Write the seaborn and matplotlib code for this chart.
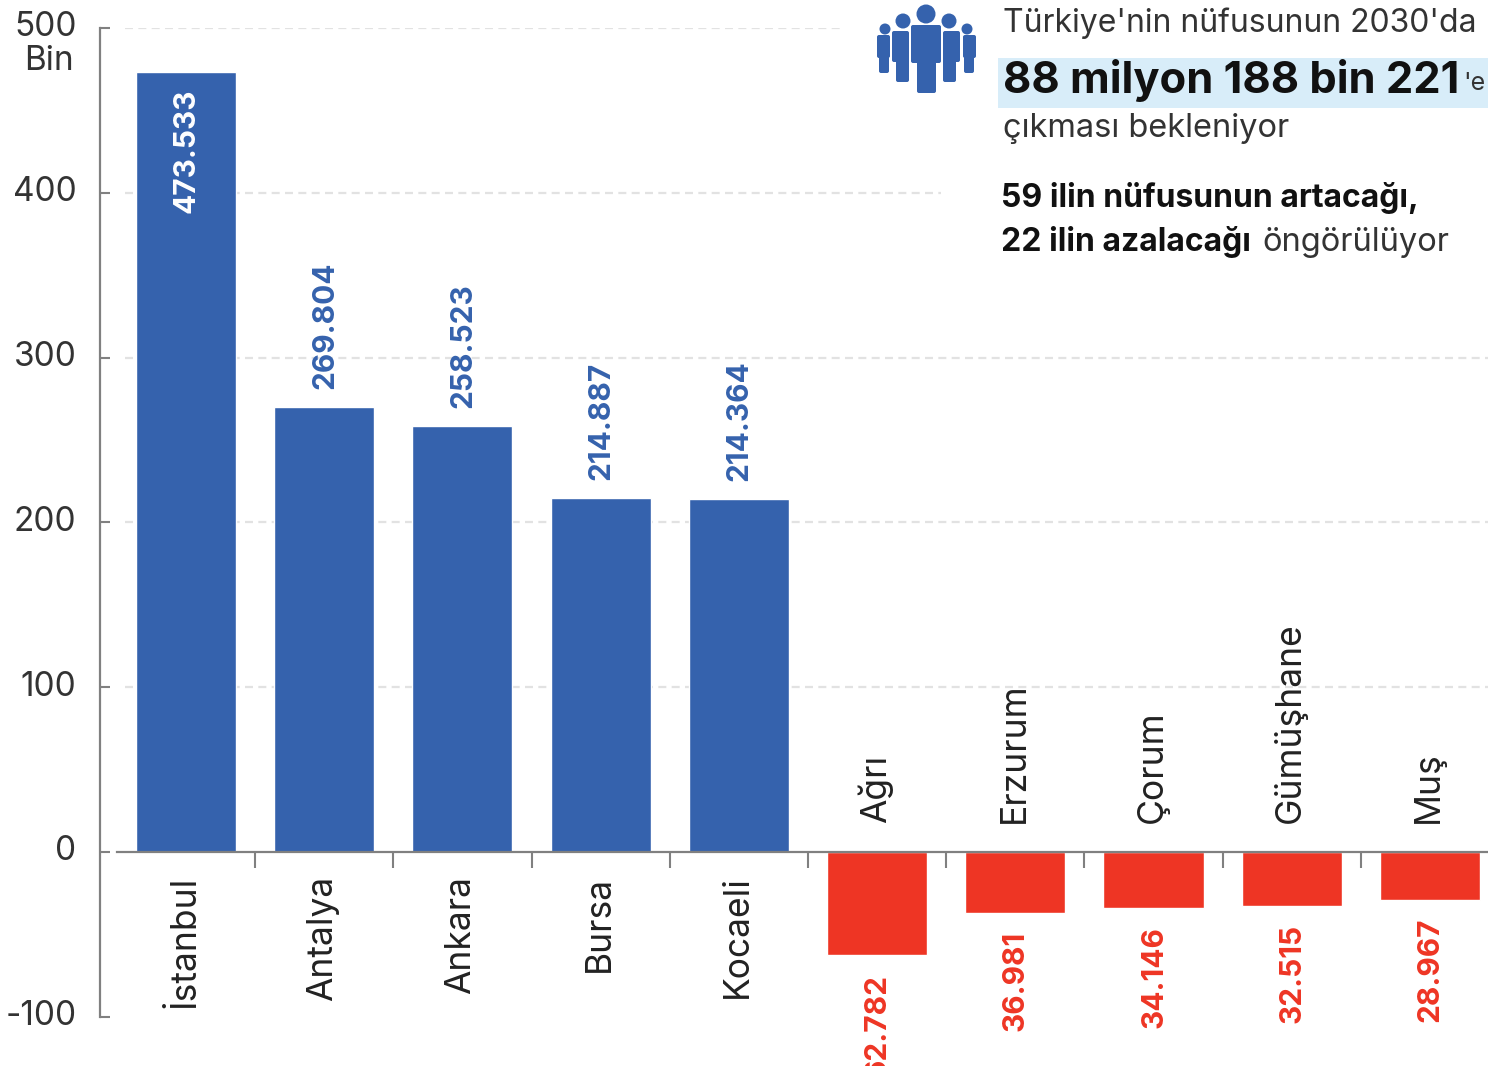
import numpy as np
import pandas as pd
import seaborn as sns
import matplotlib.pyplot as plt
from matplotlib.patches import Circle, FancyBboxPatch, Rectangle
from matplotlib.transforms import ScaledTranslation

# thousands of people, change by 2030
cities = ['İstanbul', 'Antalya', 'Ankara', 'Bursa', 'Kocaeli', 'Ağrı', 'Erzurum', 'Çorum', 'Gümüşhane', 'Muş']
values = [473.533, 269.804, 258.523, 214.887, 214.364, -62.782, -36.981, -34.146, -32.515, -28.967]
value_labels = ['473.533', '269.804', '258.523', '214.887', '214.364', '62.782', '36.981', '34.146', '32.515', '28.967']
y_ticks = [-100, 0, 100, 200, 300, 400, 500]
y_tick_labels = ['-100', '0', '100', '200', '300', '400', '500']

BLUE = '#3562ad'
RED = '#ee3524'
GREY = '#808080'

sns.set_style('white')
plt.rcParams['font.family'] = ['Inter', 'DejaVu Sans']

data = pd.DataFrame({'city': cities, 'value': values})
data['sign'] = np.where(data['value'] > 0, 'up', 'down')

fig = plt.figure(figsize=(14.88, 10.66), dpi=100)
ax = fig.add_axes([100 / 1488, 1 - 1016.8 / 1066, 1388 / 1488, (1016.8 - 28) / 1066])

sns.barplot(data=data, x='city', y='value', hue='sign', palette={'up': BLUE, 'down': RED},
            dodge=False, width=0.724, legend=False, saturation=1, ax=ax)
ax.set_xlim(-0.622, 9.42)
ax.set_ylim(-100, 500)
ax.set_xlabel('')
ax.set_ylabel('')

# dashed guides stop where the text block starts
for y, x1 in [(500, 4.73), (400, 5.46), (300, 9.42), (200, 9.42), (100, 9.42)]:
    ax.hlines(y, -0.44, x1, color='#e2e2e2', lw=1.6, ls=(0, (3.6, 2.4)), zorder=0)

sns.despine(ax=ax, top=True, right=True)
ax.spines['left'].set_color(GREY)
ax.spines['left'].set_linewidth(1.6)
ax.spines['bottom'].set_position(('data', 0))
ax.spines['bottom'].set_bounds(-0.5, 9.42)
ax.spines['bottom'].set_color(GREY)
ax.spines['bottom'].set_linewidth(1.6)

ax.set_xticks(np.arange(0.5, 9, 1))
ax.set_xticklabels([])
ax.tick_params(axis='x', bottom=True, length=11.5, width=1.5, color=GREY, direction='out')
ax.set_yticks(y_ticks)
ax.set_yticklabels(y_tick_labels)
ax.tick_params(axis='y', left=True, length=7.5, width=1.5, color=GREY, direction='in', pad=17,
               labelsize=24, labelcolor='#333333')
for lab in ax.get_yticklabels():
    lab.set_transform(lab.get_transform() + ScaledTranslation(0, 4 / 100, fig.dpi_scale_trans))

for i, (city, val, txt) in enumerate(zip(cities, values, value_labels)):
    if i == 0:
        ax.annotate(txt, (i, val), xytext=(0.5, -12), textcoords='offset points', rotation=90, ha='center',
                    va='top', color='white', fontsize=21.5, fontweight='bold')
    elif val > 0:
        ax.annotate(txt, (i, val), xytext=(0.5, 13), textcoords='offset points', rotation=90, ha='center',
                    va='bottom', color=BLUE, fontsize=21.5, fontweight='bold')
    else:
        ax.annotate(txt, (i, val), xytext=(0.5, -13), textcoords='offset points', rotation=90, ha='center',
                    va='top', color=RED, fontsize=21.5, fontweight='bold')
    # city names sit on the opposite side of the zero line
    if val > 0:
        ax.annotate(city, (i, 0), xytext=(-1, -17), textcoords='offset points', rotation=90, ha='center',
                    va='top', color='#222222', fontsize=25.5)
    else:
        ax.annotate(city, (i, 0), xytext=(-1, 21), textcoords='offset points', rotation=90, ha='center',
                    va='bottom', color='#222222', fontsize=25.5)

# overlay in picture pixels for the text block and the icon
over = fig.add_axes([0, 0, 1, 1], facecolor='none')
over.set_xlim(0, 1488)
over.set_ylim(1066, 0)
over.axis('off')

over.text(74, 61, 'Bin', ha='right', va='center', fontsize=24, color='#333333')

over.add_patch(Rectangle((998, 58), 490, 50, color='#d8edf9', lw=0, zorder=0))
over.text(1003, 23, "Türkiye'nin nüfusunun 2030'da", va='center', fontsize=23, color='#333333')
over.text(1003, 81, '88 milyon 188 bin 221', va='center', fontsize=31.3, fontweight='bold', color='#111111')
over.text(1463, 83, "'e", va='center', fontsize=18, color='#333333')
over.text(1003, 128, 'çıkması bekleniyor', va='center', fontsize=23.5, color='#333333')
over.text(1001, 198, '59 ilin nüfusunun artacağı,', va='center', fontsize=23, fontweight='bold', color='#111111')
over.text(1001, 242, '22 ilin azalacağı', va='center', fontsize=23, fontweight='bold', color='#111111')
over.text(1262, 242, 'öngörülüyor', va='center', fontsize=23.5, color='#333333')


def person(hx, hy, r, torso, leg):
    # torso and leg are (x0, x1, y0, y1) in pixels
    over.add_patch(Circle((hx, hy), r, color=BLUE, lw=0, zorder=3))
    for x0, x1, y0, y1 in (torso, leg):
        over.add_patch(FancyBboxPatch((x0 + 2, y0 + 2), x1 - x0 - 4, y1 - y0 - 4, boxstyle='round,pad=2',
                                      fc=BLUE, ec='none', zorder=3))


person(885, 29, 5.5, (877, 890, 35, 58), (879, 889, 45, 73))
person(967, 29, 5.5, (963, 976, 35, 58), (964, 974, 45, 73))
person(903, 21, 7.5, (892, 909, 31, 62), (896, 909, 45, 82))
person(949, 21, 7.5, (943, 960, 31, 62), (943, 956, 45, 82))
person(926, 14, 9.5, (911, 941, 25, 63), (917, 936, 50, 93))

fig.savefig('out.png', dpi=100)
